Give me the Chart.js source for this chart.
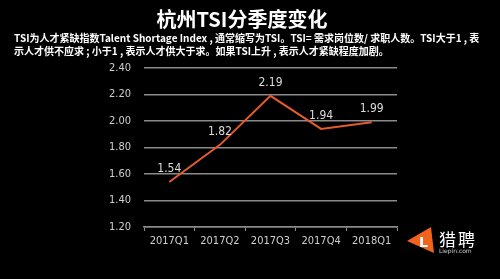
<!DOCTYPE html>
<html>
<head>
<meta charset="utf-8">
<script src="https://cdn.jsdelivr.net/npm/chart.js@4/dist/chart.umd.min.js"></script>
<style>
  html, body { margin: 0; padding: 0; background: #000; }
  #wrap { position: relative; width: 500px; height: 279px; background: #000; overflow: hidden; }
  #tsiChart { position: absolute; left: 0; top: 0; }
  .title { position: absolute; top: 4px; left: -8px; width: 500px; text-align: center; color: #fff;
    font: bold 20px "Noto Sans CJK SC", sans-serif; }
  .sub { position: absolute; top: 31px; left: 14px; width: 490px; color: #fff; white-space: nowrap;
    font: bold 10px/13px "Noto Sans CJK SC", sans-serif; }
  .logo { position: absolute; left: 407px; top: 227px; width: 27px; height: 26px; }
  .logo-txt { position: absolute; left: 439px; top: 226px; color: #fff; font: 17px "Noto Sans CJK SC", sans-serif; letter-spacing: 2px; }
  .logo-url { position: absolute; left: 439px; top: 247px; color: #ccc; font: 6px "DejaVu Sans", sans-serif; }
</style>
</head>
<body>
<div id="wrap">
  <canvas id="tsiChart" width="500" height="279"></canvas>
  <div class="title">杭州TSI分季度变化</div>
  <div class="sub">TSI为人才紧缺指数Talent Shortage Index , 通常缩写为TSI。TSI= 需求岗位数/ 求职人数。TSI大于1 , 表<br>示人才供不应求 ; 小于1 , 表示人才供大于求。如果TSI上升 , 表示人才紧缺程度加剧。</div>
  <svg class="logo" viewBox="0 0 27 26">
    <polygon points="0,14 24,0 27,26" fill="#f0641e"/>
    <text x="12" y="20" fill="#fff" font-family="DejaVu Sans" font-weight="bold" font-size="14">L</text>
  </svg>
  <div class="logo-txt">猎聘</div>
  <div class="logo-url">Liepin.com</div>
</div>
<script>
// 杭州TSI 季度数据
const quarters = ['2017Q1', '2017Q2', '2017Q3', '2017Q4', '2018Q1'];
const tsiValues = [1.54, 1.82, 2.19, 1.94, 1.99];
const yMin = 1.2, yMax = 2.4, yStep = 0.2;

// 数据标签 (point 上方)
const valueLabels = {
    id: 'valueLabels',
    afterDatasetsDraw(chart) {
        const c = chart.ctx;
        const meta = chart.getDatasetMeta(0);
        c.save();
        c.fillStyle = '#dcdcdc';
        c.font = '12px "DejaVu Sans Condensed", sans-serif';
        c.textAlign = 'center';
        c.textBaseline = 'bottom';
        meta.data.forEach(function(pt, i) {
            c.fillText(tsiValues[i].toFixed(2), pt.x, pt.y - 7);
        });
        c.restore();
    }
};

document.addEventListener("DOMContentLoaded", function() {
    const ctx = document.getElementById('tsiChart');
    new Chart(ctx, {
        type: 'line',
        data: {
            labels: quarters,
            datasets: [{
                data: tsiValues,
                borderColor: '#e65a2c',
                borderWidth: 2,
                pointRadius: 0,
                tension: 0
            }]
        },
        plugins: [valueLabels],
        options: {
            responsive: false,
            animation: false,
            layout: { padding: { left: 100, right: 103, top: 68, bottom: 22 } },
            plugins: {
                legend: { display: false },
                tooltip: { enabled: false }
            },
            scales: {
                x: {
                    offset: true,
                    afterFit: function(s) { s.height = 30; },
                    grid: { offset: true, drawOnChartArea: false, drawTicks: true, tickLength: 4, color: '#8a8a8a' },
                    border: { color: '#8a8a8a', width: 1.5 },
                    ticks: { color: '#cfcfcf', font: { size: 11, family: '"DejaVu Sans Condensed", sans-serif' }, padding: 4 }
                },
                y: {
                    min: yMin,
                    max: yMax,
                    afterFit: function(s) { s.width = 44; },
                    ticks: {
                        stepSize: yStep,
                        color: '#cfcfcf',
                        padding: 13,
                        font: { size: 11, family: '"DejaVu Sans Condensed", sans-serif' },
                        callback: function(v) { return Number(v).toFixed(2); }
                    },
                    grid: { color: '#8a8a8a', lineWidth: 1.5, drawTicks: false },
                    border: { display: false }
                }
            }
        }
    });
});
</script>
</body>
</html>
